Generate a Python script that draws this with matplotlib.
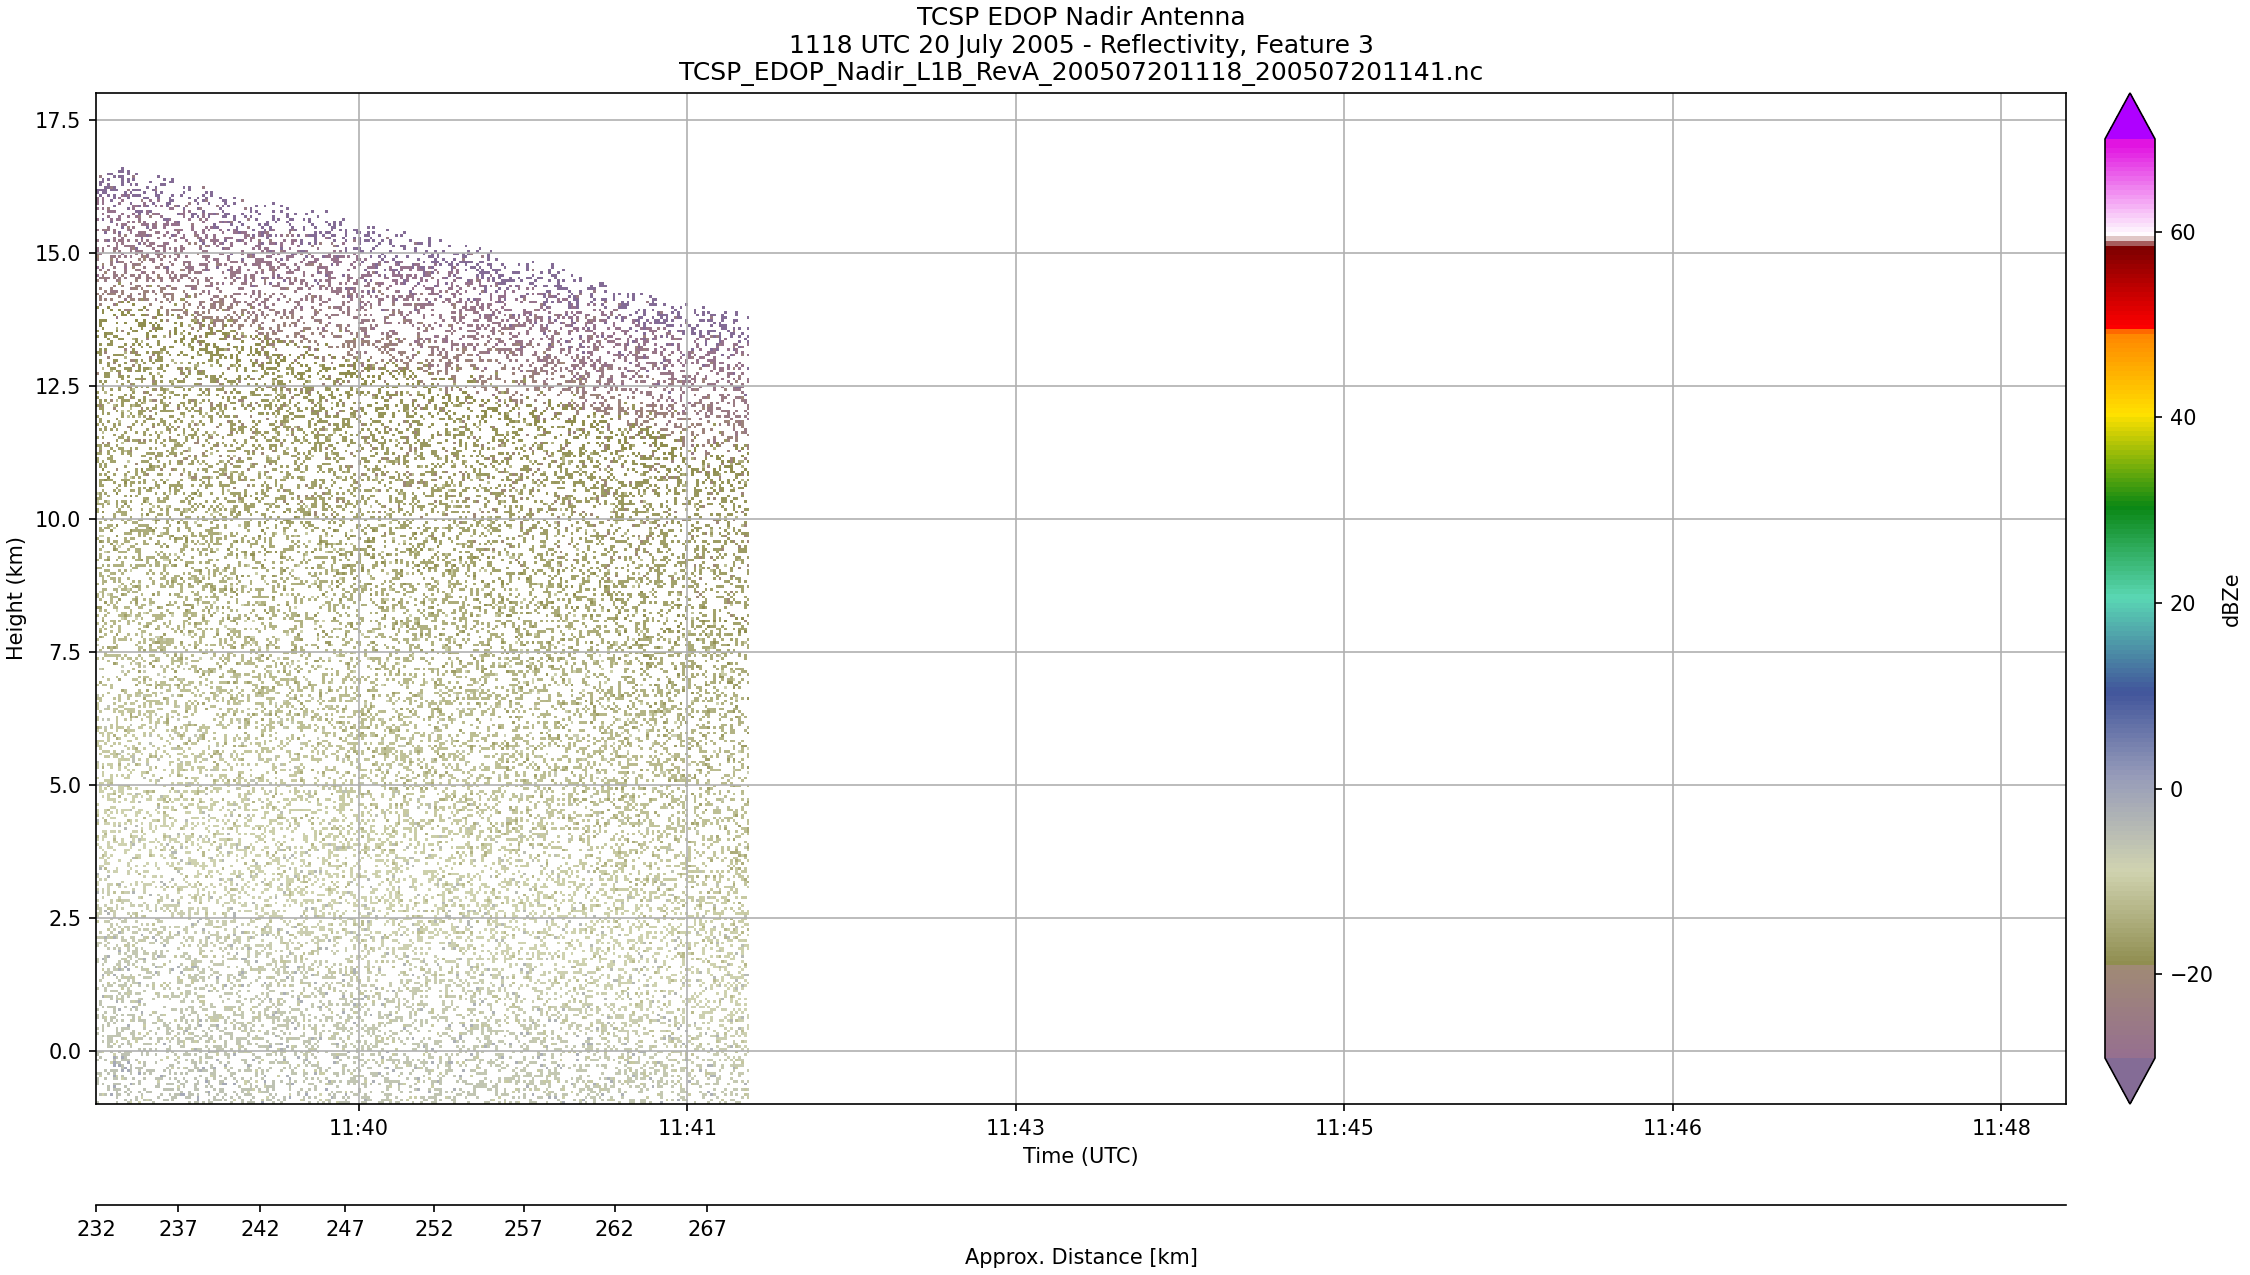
import numpy as np
import matplotlib
matplotlib.use('Agg')
import matplotlib.pyplot as plt
from matplotlib.colors import LinearSegmentedColormap, ListedColormap, Normalize
from matplotlib.cm import ScalarMappable

# top of the echo, read every 5 s from 11:38:40 (km)
echo_top = [16.55, 16.6, 16.6, 16.5, 16.4, 16.3, 16.25, 16.15, 16.05, 16.0,
            15.95, 15.9, 15.85, 15.8, 15.7, 15.6, 15.5, 15.45, 15.4, 15.35,
            15.3, 15.25, 15.2, 15.1, 15.0, 14.9, 14.85, 14.8, 14.75, 14.65,
            14.55, 14.45, 14.35, 14.25, 14.15, 14.1, 14.05, 13.95, 13.9, 13.85]
# rough edge of the echo top, km below the line above, typed by eye
top_rough = [0.0, 0.1, 0.0, 0.25, 0.05, 0.0, 0.15, 0.35, 0.05, 0.0, 0.2, 0.0, 0.3,
             0.05, 0.1, 0.4, 0.0, 0.1, 0.2, 0.0, 0.3, 0.05]

# colour read as dBZe for each 0.5 km below the echo top
dbz_by_depth = [-29.5, -28, -26.5, -25, -22, -19, -18, -17.5, -17, -16.5,
                -16, -15.5, -15, -14.5, -14, -13.5, -13, -12.5, -12, -11.5,
                -11, -10.5, -10, -9.5, -9, -8.7, -8.4, -8, -7.5, -7,
                -7, -6.5, -6.5, -6, -6, -6, -6, -6]

# speckle sample typed by eye from the crops, not cell-exact (. = no echo)
speckle = [
    "xx...x..o....xxg.....x.x...x....ox.x.....xx...g..x.....xo..x...x",
    "x....xx.....ox.......xx.o..xx.....x..x.g.x.....x.xx......x...ox.",
    "..ox.....x.x...gx..x.....x..x.....xx...o.....xx...x.x.....gx...",
    "...xx..g.....x..x...xo.....xx..x......x.x..xo.......x..xx....x.xx",
    ".x.....x.xo.....x.....xx..g...x.xx.......o.x...xx.....x.x.....",
    "xg..x.....xx...o..x.x......x.....gx..x.....xx....x.o...x...xx..x",
    "..x...xx......x.x.....gx.....xo...x....xx.....x.x.....xx..o....",
    ".....x..ox.x.....xx....x.x.....x.xg.....x..o.x.....xx.....x.x..xx",
    "x.xx.....g..x......x.o..xx...x.....xx......x.g..xx...o.....x...",
    "...x.x......xx..ox.....x.....xx.g....x.x.....xx......x..xo..x..x",
    "o.....xx.x.....x...g.xx.....x...o.x.....xx...x..x.....xg....xx.",
    "..x.g....x..xo.....xx.....x.x.....xx..x.....o.x.....xx...x.....x.",
    "xx.....x.....x.x.g....x..xo.....xx......x.x....gx.....x.x...ox",
    "...xo.x..xx......x.....xx...x.....x.o.xx.....x.....xg...xx.....x",
    ".x.....xg.....xo.x...x.....x.x..g.....x...xx.o.....x.x.....xx..",
    "x..xx.....x.x.....xx...o.x.....xx.....gx.....x..xx.....ox...x.x.",
    "....x.ox.....gx.....x.x.....xo..x.xx.....x.g.....xx.x.....x....",
    ".xx.....x...x..xx.o.....x..gx.....x.....xx...ox.x.....x..xx...x.x",
    "x...g.x.....xx......x.xo.....xx..x...x.....gx.....xo...x.....xx",
    "..x.....xo..x.x...xg.....x.....xx.....x.ox.....x..xx.....x.x....",
    "ox.....xx.....x.....x.xx...g.x.....xo..x.....xx.x.....gx...x...xx",
    "...xx.x.....ox..g.x.....xx.....x.x.....xx.o.....x.x..x.....xo..",
    ".g.....x.xx.....x...xo.x.....xx...g.x.....x.xx.....ox.....x.x..x.",
    "x..xo.....x..x.xx.....g.x.x.....x.....xxo...x.....x.gx..xx.....",
    "...x.x.....xx.....ox.....x...xg.....xx.x.....o.xx.....x...x.xo..",
    ".xx.....g.x...x.....xx.o.x.....xx...x.....gx.....x.xx.....ox...",
    "x.....xo.....xx.x..x.....xg..x.x.....xo..x.....xx.....x.x..g...xx",
    "..xg.x.....x.....xxo...x.x.....xx.....x.x..g.xx.....o.x.....xx.",
]
speckle_offset = {'x': 0.0, 'o': -3.5, 'g': 4.5}
# offsets into the sample so it does not repeat visibly
row_shift = [0, 23, 7, 41, 15, 52, 3, 33, 19, 46, 11, 28, 58, 5, 37, 21, 49, 13, 30,
             2, 44, 17, 55, 9, 26, 39, 6, 50, 14, 35, 24, 60, 1, 43, 18, 31, 54]
col_shift = [0, 11, 4, 19, 8, 25, 2, 14, 22, 6, 17, 27, 1, 10, 23, 5, 16, 26, 3,
             13, 20, 7, 24, 12, 18, 9, 21, 15, 26, 4, 11]

time_ticks = [80, 180, 280, 380, 480, 580]  # seconds after 11:38:40
time_labels = ['11:40', '11:41', '11:43', '11:45', '11:46', '11:48']
dist_ticks = [0, 25, 50, 75.8, 102.9, 130.2, 157.9, 186.1]
dist_labels = ['232', '237', '242', '247', '252', '257', '262', '267']
height_ticks = [0, 2.5, 5, 7.5, 10, 12.5, 15, 17.5]

# colorbar colours
cmap_stops = [
    (-29.0, '#96708f'), (-19.3, '#a08a75'), (-19.2, '#8e8c4e'), (-9.0, '#d0d3b0'),
    (1.3, '#969bb9'), (10.4, '#41559b'), (20.6, '#5ad7b4'), (30.4, '#0a8714'),
    (40.4, '#ffe100'), (49.0, '#ff8700'), (49.5, '#ff6000'), (49.8, '#ff0000'),
    (58.8, '#780000'), (59.0, '#b88080'), (59.8, '#ffffff'), (69.5, '#e114e1'),
    (70.0, '#e114e1'),
]
VMIN, VMAX = -29.0, 70.0


def make_cmap():
    pos = [(v - VMIN) / (VMAX - VMIN) for v, c in cmap_stops]
    cols = [c for v, c in cmap_stops]
    smooth = LinearSegmentedColormap.from_list('edop', list(zip(pos, cols)), N=198)
    cmap = ListedColormap(smooth(np.linspace(0, 1, 198)))
    cmap.set_under('#846c96')
    cmap.set_over('#af00ff')
    cmap.set_bad((1, 1, 1, 0))
    return cmap


def build_field():
    t_edges = np.arange(0, 199.5, 0.85)
    z_edges = np.arange(-1.0, 16.8, 0.05)
    rows, cols = len(z_edges) - 1, len(t_edges) - 1
    field = np.full((rows, cols), np.nan)
    for j in range(rows):
        shift = row_shift[j % len(row_shift)]
        for i in range(cols):
            line = speckle[(j + col_shift[i % len(col_shift)]) % len(speckle)]
            ch = line[(i + shift) % len(line)]
            if ch == '.':
                continue
            top = echo_top[int(t_edges[i] // 5)] - top_rough[i % len(top_rough)]
            if z_edges[j] >= top:
                continue
            band = int((top - z_edges[j]) // 0.5)
            field[j, i] = dbz_by_depth[band] + speckle_offset[ch]
    return t_edges, z_edges, np.ma.masked_invalid(field)


def main():
    fig = plt.figure(figsize=(15, 8.5), dpi=150)
    W, H = 2250.0, 1275.0
    left, right, top, bottom = 96, 2066, 93, 1104
    ax = fig.add_axes([left / W, 1 - bottom / H, (right - left) / W, (bottom - top) / H])

    cmap = make_cmap()
    norm = Normalize(VMIN, VMAX)
    t_edges, z_edges, field = build_field()
    ax.pcolormesh(t_edges, z_edges, field, cmap=cmap, norm=norm, antialiased=False)

    ax.set_xlim(0, 599.7)
    ax.set_ylim(-1, 18)
    ax.set_xticks(time_ticks)
    ax.set_xticklabels(time_labels)
    ax.set_yticks(height_ticks)
    ax.set_yticklabels([f'{h:.1f}' for h in height_ticks])
    ax.grid(True)
    ax.set_xlabel('Time (UTC)')
    ax.set_ylabel('Height (km)')
    ax.set_title('TCSP EDOP Nadir Antenna\n1118 UTC 20 July 2005 - Reflectivity, Feature 3\n'
                 'TCSP_EDOP_Nadir_L1B_RevA_200507201118_200507201141.nc', fontsize=12, pad=6)

    # second axis with only the distance spine
    ax2 = fig.add_axes([left / W, 1 - 1205 / H, (right - left) / W, 1e-6])
    ax2.set_xlim(0, 599.7)
    ax2.set_yticks([])
    for s in ['left', 'right', 'bottom']:
        ax2.spines[s].set_visible(False)
    ax2.set_xticks(dist_ticks)
    ax2.set_xticklabels(dist_labels)
    ax2.set_xlabel('Approx. Distance [km]')

    cax = fig.add_axes([2105 / W, 1 - bottom / H, 50 / W, (bottom - top) / H])
    cb = fig.colorbar(ScalarMappable(norm=norm, cmap=cmap), cax=cax, extend='both', extendfrac=0.05)
    cb.set_ticks([-20, 0, 20, 40, 60])
    cb.set_label('dBZe')

    fig.savefig('out.png', dpi=150)


if __name__ == "__main__":
    main()
